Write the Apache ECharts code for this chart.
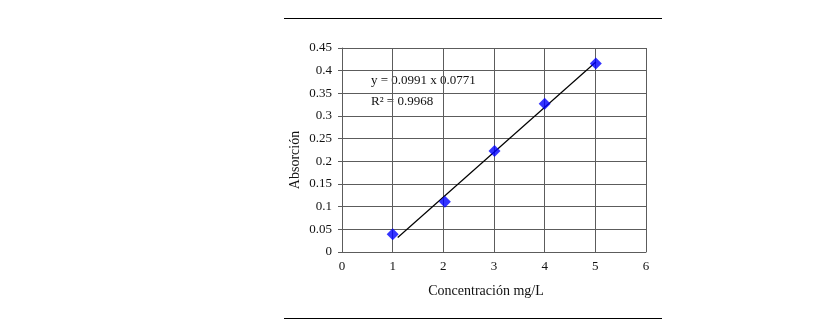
<!DOCTYPE html>
<html>
<head>
<meta charset="utf-8">
<script src="https://cdn.jsdelivr.net/npm/echarts@6/dist/echarts.min.js"></script>
<style>html,body{margin:0;padding:0;background:#fff;}#c{width:835px;height:331px;}</style>
</head>
<body>
<div id="c"></div>
<script>
const concentrations = [1, 2.03, 3.01, 4.0, 5.01];
const absorbance = [0.039, 0.111, 0.223, 0.327, 0.416];
const trendX = [1.1, 5.01];
const trendY = [0.032, 0.419];
const xTicks = [0, 1, 2, 3, 4, 5, 6];
const yTicks = [0, 0.05, 0.1, 0.15, 0.2, 0.25, 0.3, 0.35, 0.4, 0.45];
const equationText = 'y = 0.0991 x 0.0771';
const r2Text = 'R² = 0.9968';
const xTitle = 'Concentración mg/L';
const yTitle = 'Absorción';

const font = '"Liberation Serif", "DejaVu Serif", serif';
const gridColor = '#5c5c5c';
const chart = echarts.init(document.getElementById('c'));
chart.setOption({
  animation: false,
  backgroundColor: '#fff',
  grid: {left: 342, right: 189, top: 48, bottom: 79, containLabel: false},
  xAxis: {
    type: 'value', min: xTicks[0], max: xTicks[xTicks.length - 1], interval: 1,
    axisLine: {show: true, lineStyle: {color: gridColor, width: 1}},
    axisTick: {show: false},
    splitLine: {show: true, lineStyle: {color: gridColor, width: 1}},
    axisLabel: {fontFamily: font, fontSize: 13, color: '#111', margin: 8}
  },
  yAxis: {
    type: 'value', min: yTicks[0], max: yTicks[yTicks.length - 1], interval: 0.05,
    axisLine: {show: true, lineStyle: {color: gridColor, width: 1}},
    axisTick: {show: true, inside: false, length: 4, lineStyle: {color: gridColor}},
    splitLine: {show: true, lineStyle: {color: gridColor, width: 1}},
    axisLabel: {fontFamily: font, fontSize: 13, color: '#111', margin: 10,
      formatter: v => String(+v.toFixed(2))}
  },
  series: [
    {
      type: 'line',
      data: trendX.map((x, i) => [x, trendY[i]]),
      symbol: 'none',
      lineStyle: {color: '#000', width: 1.2},
      z: 2
    },
    {
      type: 'scatter',
      data: concentrations.map((x, i) => [x, absorbance[i]]),
      symbol: 'diamond',
      symbolSize: [12, 12],
      itemStyle: {color: '#0000ff'},
      z: 3
    }
  ],
  graphic: [
    {type: 'line', shape: {x1: 284, y1: 18.5, x2: 662, y2: 18.5}, style: {stroke: '#000', lineWidth: 1}},
    {type: 'line', shape: {x1: 284, y1: 318.5, x2: 662, y2: 318.5}, style: {stroke: '#000', lineWidth: 1}},
    {type: 'text', x: 371, y: 81, style: {text: equationText, font: '13px ' + font, fill: '#111', verticalAlign: 'middle', align: 'left'}},
    {type: 'text', x: 371, y: 102, style: {text: r2Text, font: '13px ' + font, fill: '#111', verticalAlign: 'middle', align: 'left'}},
    {type: 'text', x: 486, y: 291, style: {text: xTitle, font: '14px ' + font, fill: '#111', verticalAlign: 'middle', align: 'center'}},
    {type: 'text', x: 295, y: 160, rotation: Math.PI / 2, style: {text: yTitle, font: '14px ' + font, fill: '#111', verticalAlign: 'middle', align: 'center'}}
  ]
});
</script>
</body>
</html>
